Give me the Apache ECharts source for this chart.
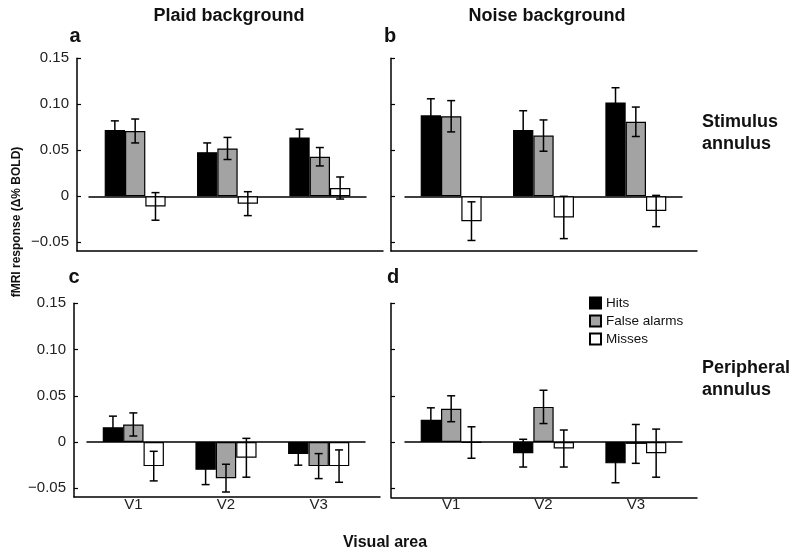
<!DOCTYPE html>
<html>
<head>
<meta charset="utf-8">
<script src="https://cdn.jsdelivr.net/npm/echarts@6/dist/echarts.min.js"></script>
<style>
html,body{margin:0;padding:0;background:#fff;}
#chart{width:800px;height:556px;}
</style>
</head>
<body>
<div id="chart"></div>
<script>
// ---- data ----
var categories = ['V1', 'V2', 'V3'];
var seriesNames = ['Hits', 'False alarms', 'Misses'];
var yTicks = [-0.05, 0, 0.05, 0.10, 0.15];

// Panel a: plaid background, stimulus annulus
var plaidStimHits = [0.072, 0.048, 0.064];
var plaidStimHitsErr = [0.010, 0.010, 0.009];
var plaidStimFA = [0.071, 0.052, 0.043];
var plaidStimFAErr = [0.013, 0.012, 0.010];
var plaidStimMiss = [-0.011, -0.008, 0.009];
var plaidStimMissErr = [0.015, 0.013, 0.012];
// Panel b: noise background, stimulus annulus
var noiseStimHits = [0.088, 0.072, 0.102];
var noiseStimHitsErr = [0.018, 0.021, 0.016];
var noiseStimFA = [0.087, 0.066, 0.081];
var noiseStimFAErr = [0.017, 0.017, 0.016];
var noiseStimMiss = [-0.027, -0.023, -0.016];
var noiseStimMissErr = [0.021, 0.023, 0.017];
// Panel c: plaid background, peripheral annulus
var plaidPeriHits = [0.016, -0.030, -0.013];
var plaidPeriHitsErr = [0.012, 0.016, 0.012];
var plaidPeriFA = [0.019, -0.039, -0.026];
var plaidPeriFAErr = [0.0125, 0.015, 0.0135];
var plaidPeriMiss = [-0.026, -0.017, -0.026];
var plaidPeriMissErr = [0.016, 0.021, 0.0175];
// Panel d: noise background, peripheral annulus
var noisePeriHits = [0.024, -0.012, -0.023];
var noisePeriHitsErr = [0.013, 0.015, 0.021];
var noisePeriFA = [0.036, 0.038, -0.002];
var noisePeriFAErr = [0.014, 0.018, 0.021];
var noisePeriMiss = [-0.0005, -0.007, -0.012];
var noisePeriMissErr = [0.017, 0.020, 0.026];

// ---- layout ----
var FONT = '"Liberation Sans", Arial, sans-serif';
var colors = ['#000000', '#a3a3a3', '#ffffff'];
var GAP_FRAC = 0.34;

var panels = [
  { vals: [plaidStimHits, plaidStimFA, plaidStimMiss], errs: [plaidStimHitsErr, plaidStimFAErr, plaidStimMissErr],
    frame: { left: 77, top: 58.3, width: 306, height: 192.7 }, data: { left: 89, top: 58.3, width: 277, height: 184 }, labels: true, cats: false },
  { vals: [noiseStimHits, noiseStimFA, noiseStimMiss], errs: [noiseStimHitsErr, noiseStimFAErr, noiseStimMissErr],
    frame: { left: 391, top: 58.3, width: 306, height: 192.7 }, data: { left: 405, top: 58.3, width: 277, height: 184 }, labels: false, cats: false },
  { vals: [plaidPeriHits, plaidPeriFA, plaidPeriMiss], errs: [plaidPeriHitsErr, plaidPeriFAErr, plaidPeriMissErr],
    frame: { left: 74, top: 303.3, width: 306, height: 193.7 }, data: { left: 87, top: 303.3, width: 278, height: 185 }, labels: true, cats: true },
  { vals: [noisePeriHits, noisePeriFA, noisePeriMiss], errs: [noisePeriHitsErr, noisePeriFAErr, noisePeriMissErr],
    frame: { left: 391, top: 303.3, width: 306, height: 194 }, data: { left: 405, top: 303.3, width: 277, height: 185 }, labels: false, cats: true }
];

var grid = [], xAxis = [], yAxis = [], series = [];

function fmt(v) {
  if (Math.abs(v) < 1e-9) return '0';
  var s = Math.abs(v).toFixed(2);
  return (v < 0 ? '\u2212' : '') + s;
}

panels.forEach(function (p, pi) {
  // data grid
  var gi = grid.length;
  grid.push({ left: p.data.left, top: p.data.top, width: p.data.width, height: p.data.height, containLabel: false });
  var xi0 = xAxis.length;
  xAxis.push({
    type: 'category', gridIndex: gi, data: categories,
    axisLine: { show: true, onZero: true, lineStyle: { color: '#000', width: 1.5 } },
    axisTick: { show: false }, axisLabel: { show: false }
  });
  xAxis.push({
    type: 'category', gridIndex: gi, data: categories, position: 'bottom',
    axisLine: { show: false, onZero: false }, axisTick: { show: false },
    axisLabel: { show: p.cats, margin: 9, fontSize: 15, color: '#222', fontFamily: FONT }
  });
  var yi = yAxis.length;
  yAxis.push({
    type: 'value', gridIndex: gi, min: -0.05, max: 0.15, interval: 0.05, offset: p.data.left - p.frame.left,
    axisLine: { show: false }, splitLine: { show: false },
    axisTick: { show: true, inside: true, length: 4, lineStyle: { color: '#000', width: 1.2 } },
    axisLabel: { show: p.labels, margin: 8, fontSize: 15, color: '#222', fontFamily: FONT, formatter: fmt }
  });

  // frame grid (outer axis lines)
  var fg = grid.length;
  grid.push({ left: p.frame.left, top: p.frame.top, width: p.frame.width, height: p.frame.height });
  xAxis.push({ type: 'value', gridIndex: fg, min: 0, max: 1, axisLine: { show: true, onZero: false, lineStyle: { color: '#000', width: 1.5 } },
    axisTick: { show: false }, axisLabel: { show: false }, splitLine: { show: false } });
  yAxis.push({ type: 'value', gridIndex: fg, min: 0, max: 1, axisLine: { show: true, onZero: false, lineStyle: { color: '#000', width: 1.5 } },
    axisTick: { show: false }, axisLabel: { show: false }, splitLine: { show: false } });

  for (var k = 0; k < 3; k++) {
    series.push({
      type: 'bar', name: seriesNames[k], xAxisIndex: xi0, yAxisIndex: yi,
      data: p.vals[k], barGap: '0%', barCategoryGap: (GAP_FRAC * 100) + '%',
      itemStyle: { color: colors[k], borderColor: '#000', borderWidth: 1.2 },
      emphasis: { disabled: true }, z: 2
    });
  }
  for (var k2 = 0; k2 < 3; k2++) {
    (function (k) {
      var d = categories.map(function (c, i) { return [i, p.vals[k][i], p.errs[k][i]]; });
      series.push({
        type: 'custom', name: seriesNames[k] + ' err', xAxisIndex: xi0, yAxisIndex: yi, z: 5,
        encode: { x: 0, y: 1 }, data: d, silent: true,
        renderItem: function (params, api) {
          var ci = api.value(0), v = api.value(1), e = api.value(2);
          var c = api.coord([ci, v]);
          var band = api.size([1, 0])[0];
          var w = band * (1 - GAP_FRAC) / 3;
          var px = c[0] + (k - 1) * w;
          var yt = api.coord([ci, v + e])[1];
          var yb = api.coord([ci, v - e])[1];
          var cap = 4;
          var st = { stroke: '#000', lineWidth: 1.5 };
          return { type: 'group', children: [
            { type: 'line', shape: { x1: px, y1: yt, x2: px, y2: yb }, style: st },
            { type: 'line', shape: { x1: px - cap, y1: yt, x2: px + cap, y2: yt }, style: st },
            { type: 'line', shape: { x1: px - cap, y1: yb, x2: px + cap, y2: yb }, style: st }
          ] };
        }
      });
    })(k2);
  }
});

function txt(x, y, s, size, opts) {
  opts = opts || {};
  return { type: 'text', x: x, y: y, rotation: opts.rot || 0, silent: true,
    style: { text: s, font: 'bold ' + size + 'px ' + FONT, fill: '#111',
      textAlign: opts.align || 'left', textVerticalAlign: 'middle' } };
}

var option = {
  animation: false,
  backgroundColor: '#fff',
  grid: grid, xAxis: xAxis, yAxis: yAxis, series: series,
  legend: {
    data: seriesNames, orient: 'vertical', left: 584, top: 291, itemWidth: 11, itemHeight: 11, itemGap: 4,
    icon: 'rect', textStyle: { fontSize: 13.5, color: '#111', fontFamily: FONT }, selectedMode: false
  },
  graphic: [
    txt(229, 16, 'Plaid background', 18, { align: 'center' }),
    txt(547, 16, 'Noise background', 18, { align: 'center' }),
    txt(75, 36, 'a', 20, { align: 'center' }),
    txt(390, 36, 'b', 20, { align: 'center' }),
    txt(74, 277, 'c', 20, { align: 'center' }),
    txt(393, 277, 'd', 20, { align: 'center' }),
    txt(702, 122, 'Stimulus', 18),
    txt(702, 144, 'annulus', 18),
    txt(702, 368, 'Peripheral', 18),
    txt(702, 390, 'annulus', 18),
    txt(385, 543, 'Visual area', 16, { align: 'center' }),
    txt(17, 222, 'fMRI response (\u0394% BOLD)', 12, { align: 'center', rot: Math.PI / 2 })
  ]
};

var chart = echarts.init(document.getElementById('chart'), null, { renderer: 'canvas' });
chart.setOption(option);
</script>
</body>
</html>
